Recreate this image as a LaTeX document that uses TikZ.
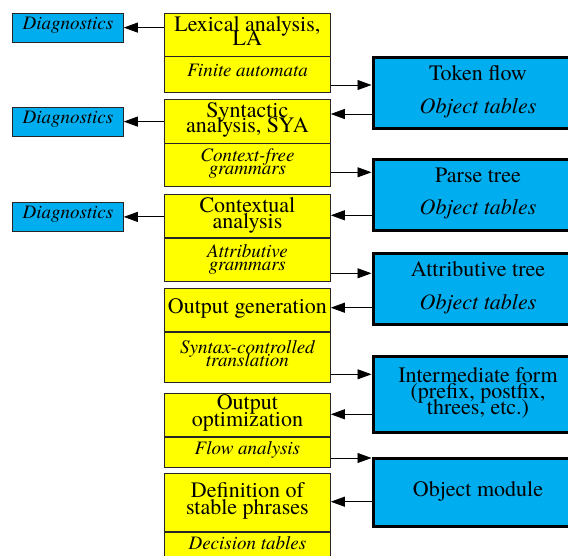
\documentclass[tikz,border=0pt]{standalone}
\usepackage{fontspec}
\setmainfont{texgyretermes}[Extension=.otf, UprightFont=*-regular,
  ItalicFont=*-italic, BoldFont=*-bold, BoldItalicFont=*-bolditalic]
\usetikzlibrary{arrows.meta}
\definecolor{boxblue}{RGB}{0,174,239}
\definecolor{boxyellow}{RGB}{255,255,0}

% font size 22 (phases, data) and 19 (methods, diagnostics) with a fixed line
% skip; lines are allowed to touch
\newcommand{\bigtxt}[1]{\rmfamily\fontsize{22}{#1}\selectfont
  \lineskiplimit=-100pt\lineskip=0pt}
\newcommand{\smalltxt}[1]{\rmfamily\fontsize{19}{#1}\selectfont\itshape
  \lineskiplimit=-100pt\lineskip=0pt}

\tikzset{
  stage/.style={draw=black!85, line width=0.8pt, fill=boxyellow,
    minimum width=166pt, inner sep=0pt, align=center,
    font=\bigtxt{16}, anchor=north west},
  method/.style={stage, font=\smalltxt{13.5}},
  diag/.style={draw=black!85, line width=0.8pt, fill=boxblue,
    minimum width=111pt, minimum height=29pt, inner sep=0pt,
    font=\smalltxt{19}, text depth=8.8pt, anchor=north west},
  data/.style={draw=black, line width=3pt, fill=boxblue,
    minimum width=210pt, inner sep=0pt, align=center,
    font=\bigtxt{16}, anchor=north west},
  arr/.style={-{Triangle[length=14pt,width=10pt]}, line width=0.8pt, black}
}

\begin{document}
\begin{tikzpicture}[x=1pt, y=-1pt]
  \useasboundingbox (0,0) rectangle (568,556);
  \clip (0,0) rectangle (568,556);

  % compiler phases (upper part) and their methods (lower part)
  \node[stage, minimum height=43pt, font=\bigtxt{14.3}, text depth=7.5pt] (la) at (164,12.7) {Lexical analysis,\\LA};
  \node[method, minimum height=35.6pt, text depth=8pt] (laM) at (la.south west) {Finite automata};
  \node[stage, minimum height=43.4pt, font=\bigtxt{15}, text depth=7.4pt] (sya) at (164,99.3) {Syntactic\\analysis, SYA};
  \node[method, minimum height=43pt, text depth=8.1pt] (syaM) at (sya.south west) {Context-free\\grammars};
  \node[stage, minimum height=43pt, font=\bigtxt{16.5}, text depth=6.6pt] (ca) at (164,194.3) {Contextual\\analysis};
  \node[method, minimum height=43pt, text depth=5.3pt] (caM) at (ca.south west) {Attributive\\grammars};
  \node[stage, minimum height=42.7pt, text depth=7pt] (og) at (164,288) {Output generation};
  \node[method, minimum height=50pt, font=\smalltxt{12.8}, text depth=6.4pt] (ogM) at (og.south west) {Syntax-controlled\\translation};
  \node[stage, minimum height=42.4pt, font=\bigtxt{17}, text depth=8pt] (oo) at (164,393.3) {Output\\optimization};
  \node[method, minimum height=30pt, text depth=7.9pt] (ooM) at (oo.south west) {Flow analysis};
  \node[stage, minimum height=57.7pt, font=\bigtxt{17}, text depth=8pt] (sp) at (164,473) {Definition of\\stable phrases};
  \node[method, minimum height=27pt, text depth=4.8pt] (spM) at (sp.south west) {Decision tables};

  % diagnostics
  \node[diag] (d1) at (12,12.7) {Diagnostics};
  \node[diag] (d2) at (12,106.7) {Diagnostics};
  \node[diag] (d3) at (12,202) {Diagnostics};

  % intermediate data
  \node[data, minimum height=71pt, text depth=8.3pt] (tf) at (371.5,56.5) {Token flow\\[16.7pt]\textit{Object tables}};
  \node[data, minimum height=70.7pt, text depth=8pt] (pt) at (371.5,158.5) {Parse tree\\[16.3pt]\textit{Object tables}};
  \node[data, minimum height=70.7pt, text depth=8pt] (at) at (371.5,252.5) {Attributive tree\\[16.7pt]\textit{Object tables}};
  \node[data, minimum height=76pt, font=\bigtxt{16.2}, text depth=6.5pt] (im) at (371.5,354.8) {Intermediate form\\(prefix, postfix,\\threes, etc.)};
  \node[data, minimum height=68.7pt, text depth=6.8pt] (om) at (371.5,456.5) {Object module};

  % diagnostics output
  \draw[arr] (la.west |- d1.east) -- (d1.east);
  \draw[arr] (sya.west |- d2.east) -- (d2.east);
  \draw[arr] (ca.west |- d3.east) -- (d3.east);

  % phase results
  \draw[arr] (laM.east |- 0,85) -- (tf.west |- 0,85);
  \draw[arr] (syaM.east |- 0,172.3) -- (pt.west |- 0,172.3);
  \draw[arr] (caM.east |- 0,273.3) -- (at.west |- 0,273.3);
  \draw[arr] (ogM.east |- 0,374.3) -- (im.west |- 0,374.3);
  \draw[arr] (ooM.east |- 0,458) -- (om.west |- 0,458);

  % inputs of the next phase
  \draw[arr] (tf.west |- 0,114) -- (sya.east |- 0,114);
  \draw[arr] (pt.west |- 0,215.3) -- (ca.east |- 0,215.3);
  \draw[arr] (at.west |- 0,307.7) -- (og.east |- 0,307.7);
  \draw[arr] (im.west |- 0,414.3) -- (oo.east |- 0,414.3);
  \draw[arr] (om.west |- 0,501.7) -- (sp.east |- 0,501.7);
\end{tikzpicture}
\end{document}
